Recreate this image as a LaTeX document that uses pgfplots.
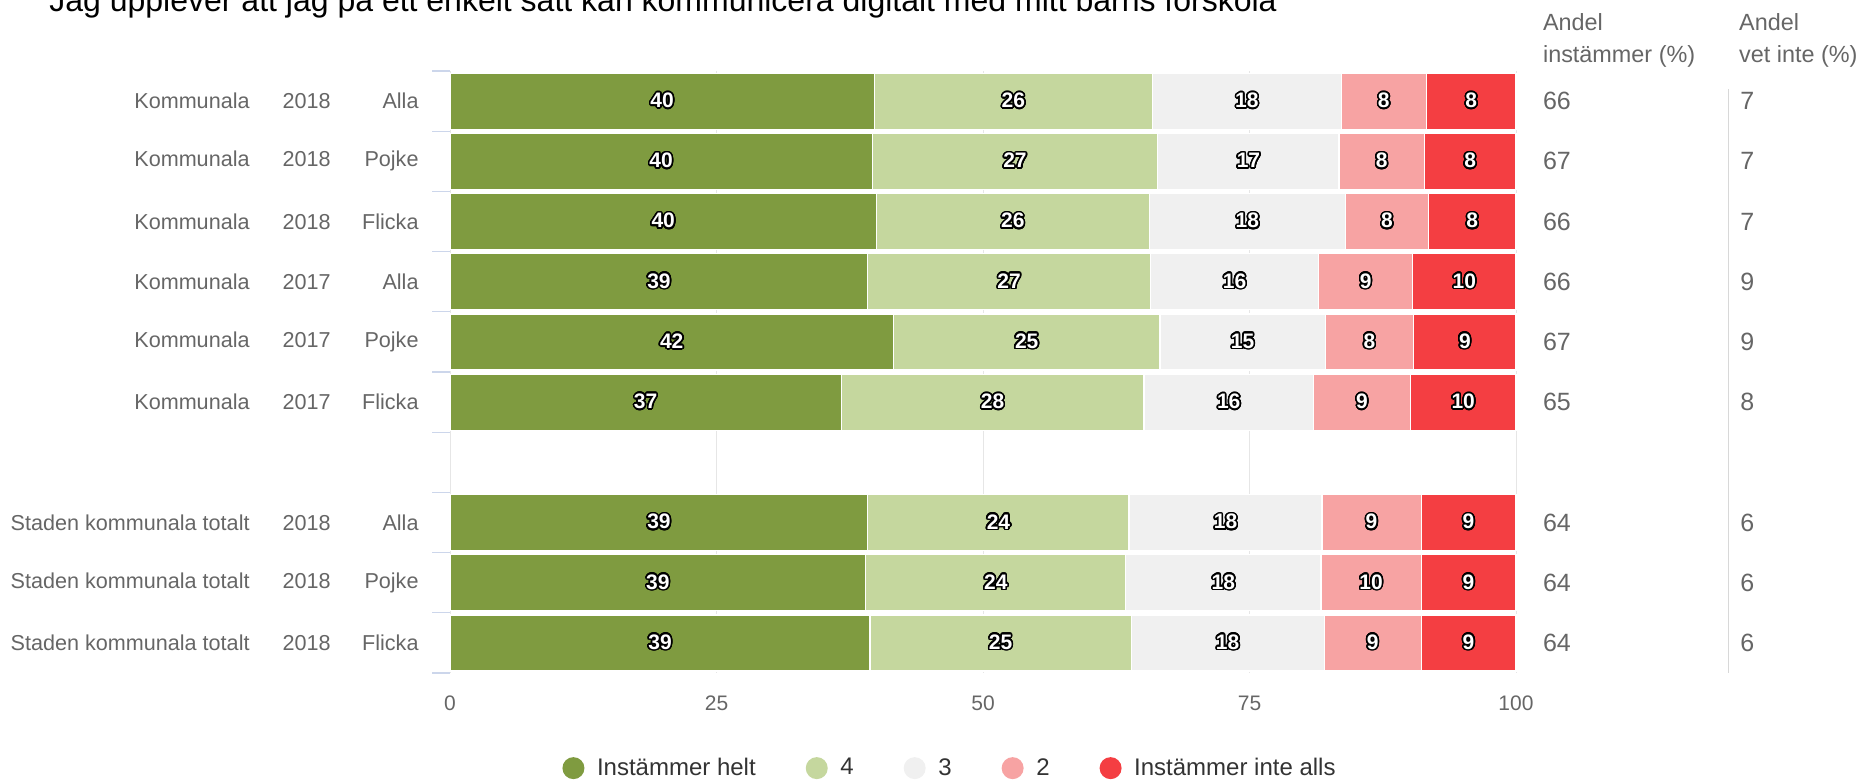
\documentclass[border=0pt]{standalone}
\usepackage{fontspec}
\setmainfont{Liberation Sans}
\usepackage{pgfplots}
\pgfplotsset{compat=1.18}
\usepackage{pgfplotstable}
\usepackage[copies]{contour}
\contourlength{0.8pt}
\contournumber{24}

\definecolor{cA}{RGB}{127,155,64}
\definecolor{cB}{RGB}{197,215,158}
\definecolor{cC}{RGB}{240,240,240}
\definecolor{cD}{RGB}{247,163,163}
\definecolor{cE}{RGB}{244,62,66}
\definecolor{txtc}{RGB}{102,102,102}
\definecolor{legtxt}{RGB}{51,51,51}
\definecolor{gridc}{RGB}{230,230,230}
\definecolor{tickc}{RGB}{204,214,235}
\definecolor{sepc}{RGB}{216,216,216}

\pgfplotstableread{
y a b c d e la lb lc ld le
0 39.8 26.1 17.7 8.0 8.4 40 26 18 8 8
1 39.6 26.8 17.0 8.0 8.6 40 27 17 8 8
2 40.0 25.6 18.4 7.8 8.2 40 26 18 8 8
3 39.2 26.5 15.8 8.8 9.7 39 27 16 9 10
4 41.6 25.0 15.5 8.3 9.6 42 25 15 8 9
5 36.7 28.4 15.9 9.1 9.9 37 28 16 9 10
7 39.2 24.5 18.1 9.3 8.9 39 24 18 9 9
8 39.0 24.4 18.3 9.4 8.9 39 24 18 10 9
9 39.4 24.5 18.1 9.1 8.9 39 25 18 9 9
}\bardata

\DeclareRobustCommand{\rowlab}[3]{\makebox[0pt][r]{#1}\makebox[84.5pt][l]{\hspace{16.5pt}#2\hfill #3}}

\pgfplotsset{
  /pgf/number format/assume math mode=true,
  geom/.style={at={(225pt,-336.5pt)}, anchor=south west,
    scale only axis, width=533pt, height=301pt,
    xmin=0, xmax=100, ymin=-0.5, ymax=9.5, y dir=reverse,
    enlargelimits=false, clip=false},
}

\begin{document}
\begin{tikzpicture}
\useasboundingbox (0,0) rectangle (931pt,-391pt);
\clip (0,0) rectangle (931pt,-391pt);
\node[anchor=base west, inner sep=0pt, font=\fontsize{16}{19}\selectfont] at (24.5pt,-5.5pt)
  {Jag upplever att jag på ett enkelt sätt kan kommunicera digitalt med mitt barns förskola};
\begin{axis}[
  geom,
  xbar stacked, bar width=28pt,
  legend image code/.code={\fill[#1, draw=none] (5.5pt,0pt) circle (5.5pt); \path (15pt,0pt);},
  axis line style={draw=none},
  xtick={0,25,50,75,100},
  xmajorgrids, grid style={gridc, line width=0.5pt},
  major tick length=0pt,
  ytick={0,1,2,3,4,5,7,8,9},
  yticklabels={
    {\rowlab{Kommunala}{2018}{Alla}},
    {\rowlab{Kommunala}{2018}{Pojke}},
    {\rowlab{Kommunala}{2018}{Flicka}},
    {\rowlab{Kommunala}{2017}{Alla}},
    {\rowlab{Kommunala}{2017}{Pojke}},
    {\rowlab{Kommunala}{2017}{Flicka}},
    {\rowlab{Staden kommunala totalt}{2018}{Alla}},
    {\rowlab{Staden kommunala totalt}{2018}{Pojke}},
    {\rowlab{Staden kommunala totalt}{2018}{Flicka}}},
  minor ytick={-0.5,0.5,...,9.5},
  minor tick length=9pt,
  tick align=outside,
  ytick pos=left, xtick pos=bottom,
  minor tick style={tickc, line width=0.6pt},
  yticklabel style={font=\fontsize{10.8}{13}\selectfont, text=txtc, anchor=east, inner sep=0pt, xshift=-15.5pt},
  xticklabel style={font=\fontsize{10.5}{12}\selectfont, text=txtc, anchor=center, yshift=-15pt},
  legend style={at={(0.470,-0.158)}, anchor=center, draw=none, fill=none,
    legend columns=-1, font=\fontsize{12}{14}\selectfont, text=legtxt,
    /tikz/every even column/.append style={column sep=23pt}},
]
\addplot[fill=cA, draw=white, line width=0.6pt] table[x=a, y=y]{\bardata};
\addlegendentry{Instämmer helt}
\addplot[fill=cB, draw=white, line width=0.6pt] table[x=b, y=y]{\bardata};
\addlegendentry{4}
\addplot[fill=cC, draw=white, line width=0.6pt] table[x=c, y=y]{\bardata};
\addlegendentry{3}
\addplot[fill=cD, draw=white, line width=0.6pt] table[x=d, y=y]{\bardata};
\addlegendentry{2}
\addplot[fill=cE, draw=white, line width=0.6pt] table[x=e, y=y]{\bardata};
\addlegendentry{Instämmer inte alls}

\node[anchor=west, inner sep=0pt, text=txtc, font=\fontsize{11.7}{14}\selectfont] at (axis cs:102.5,-1.314) {Andel};
\node[anchor=west, inner sep=0pt, text=txtc, font=\fontsize{11.7}{14}\selectfont] at (axis cs:102.5,-0.74) {instämmer (\%)};
\node[anchor=west, inner sep=0pt, text=txtc, font=\fontsize{11.7}{14}\selectfont] at (axis cs:120.9,-1.314) {Andel};
\node[anchor=west, inner sep=0pt, text=txtc, font=\fontsize{11.7}{14}\selectfont] at (axis cs:120.9,-0.74) {vet inte (\%)};
\draw[sepc, line width=0.6pt] (axis cs:119.9,-0.2) -- (axis cs:119.9,9.5);
\end{axis}
% side columns
\begin{axis}[
  geom, hide axis,
  point meta=explicit symbolic,
  nodes near coords,
  every node near coord/.append style={anchor=west, inner sep=0pt, text=txtc, font=\fontsize{12.5}{14}\selectfont},
]
\addplot[only marks, mark=none] table[meta=v]{
x y v
102.5 0 66
102.5 1 67
102.5 2 66
102.5 3 66
102.5 4 67
102.5 5 65
102.5 7 64
102.5 8 64
102.5 9 64
};
\addplot[only marks, mark=none] table[meta=v]{
x y v
121.0 0 7
121.0 1 7
121.0 2 7
121.0 3 9
121.0 4 9
121.0 5 8
121.0 7 6
121.0 8 6
121.0 9 6
};
\end{axis}
% centred segment labels
\begin{axis}[
  geom, hide axis,
  point meta=explicit,
  nodes near coords={\contour{black}{\pgfmathprintnumber{\pgfplotspointmeta}}},
  every node near coord/.append style={font=\fontsize{10.5}{12}\selectfont\bfseries, text=white, anchor=center, inner sep=0pt},
]
\addplot[only marks, mark=none] table[x expr=\thisrow{a}/2, y=y, meta=la]{\bardata};
\addplot[only marks, mark=none] table[x expr=\thisrow{a}+\thisrow{b}/2, y=y, meta=lb]{\bardata};
\addplot[only marks, mark=none] table[x expr=\thisrow{a}+\thisrow{b}+\thisrow{c}/2, y=y, meta=lc]{\bardata};
\addplot[only marks, mark=none] table[x expr=\thisrow{a}+\thisrow{b}+\thisrow{c}+\thisrow{d}/2, y=y, meta=ld]{\bardata};
\addplot[only marks, mark=none] table[x expr=\thisrow{a}+\thisrow{b}+\thisrow{c}+\thisrow{d}+\thisrow{e}/2, y=y, meta=le]{\bardata};
\end{axis}
\end{tikzpicture}
\end{document}
